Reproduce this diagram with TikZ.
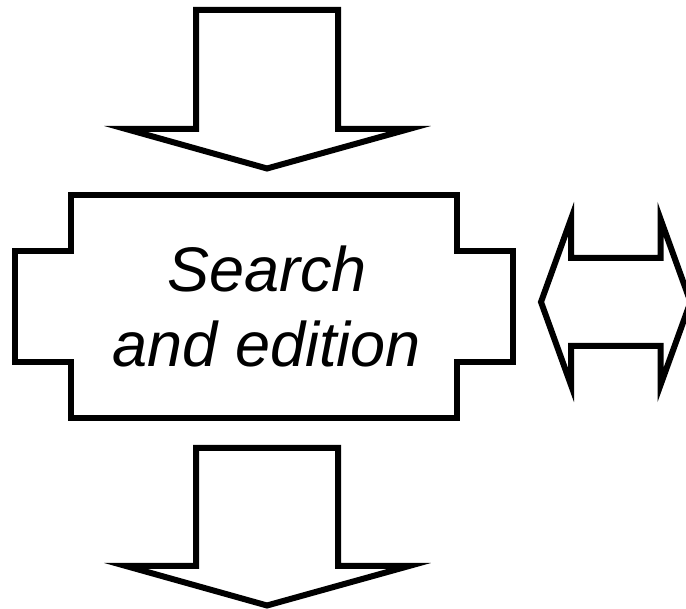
\documentclass[tikz,border=0pt]{standalone}
\usepackage{fontspec}
\setmainfont{Liberation Sans}
\begin{document}
\begin{tikzpicture}[x=1pt,y=-1pt,
  blockarrow/.style={draw=black,line width=6pt,line join=miter,fill=white},
  panel/.style={draw=black,line width=6pt,line join=miter,fill=white},
  caption/.style={anchor=base,inner sep=0pt,font=\fontsize{63}{75}\selectfont\itshape}]
  \useasboundingbox (0,0) rectangle (686,609);

  % incoming arrow on top
  \draw[blockarrow] (196,10) -- (338,10) -- (338,129) -- (409,129) -- (267,168.5)
    -- (126,129) -- (196,129) -- cycle;

  % central panel with side tabs
  \draw[panel] (71,195) -- (457,195) -- (457,251) -- (513,251) -- (513,362)
    -- (457,362) -- (457,418) -- (71,418) -- (71,362) -- (15,362) -- (15,251)
    -- (71,251) -- cycle;

  % two-way arrow on the right
  \draw[blockarrow] (541,302) -- (571,219) -- (571,258) -- (660.5,258) -- (660.5,219)
    -- (690.5,302) -- (660.5,385) -- (660.5,346) -- (571,346) -- (571,385) -- cycle;

  % outgoing arrow at the bottom
  \draw[blockarrow] (196,448) -- (338,448) -- (338,566) -- (409,566) -- (267,605.5)
    -- (126,566) -- (196,566) -- cycle;

  \node[caption] (search) at (267,291.7) {Search};
  \node[caption] (edition) at (267,366.7) {and edition};
\end{tikzpicture}
\end{document}
